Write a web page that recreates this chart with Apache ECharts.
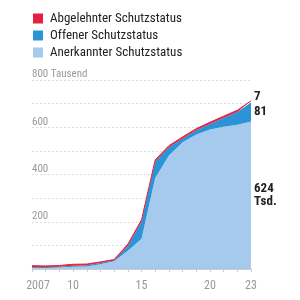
<!DOCTYPE html>
<html>
<head>
<meta charset="utf-8">
<script src="https://cdn.jsdelivr.net/npm/echarts@6/dist/echarts.min.js"></script>
<style>
  html, body { margin: 0; padding: 0; background: #fff; }
  #chart { width: 300px; height: 300px; }
</style>
</head>
<body>
<div id="chart"></div>
<script>
// Jahre 2007 bis 2023, Werte in Tausend
const years = ['2007', '2008', '2009', '2010', '2011', '2012', '2013', '2014', '2015',
  '2016', '2017', '2018', '2019', '2020', '2021', '2022', '2023']
const anerkannt = [4, 4, 6, 9, 11, 20, 33, 77, 128, 385, 480, 536, 569, 590, 602, 611, 624]
const offen = [3, 4, 4, 5, 5, 5, 3, 20, 72, 70, 35, 16, 18, 24, 38, 54, 81]
const abgelehnt = [7, 5, 5, 6, 5, 5, 4, 8, 8, 7, 7, 7, 7, 7, 7, 7, 7]
const endTexts = ['624\nTsd.', '81', '7']
const xLabels = { '2007': '2007', '2010': '10', '2015': '15', '2020': '20', '2023': '23' }
const yTicks = [200, 400, 600, 800]

const font = "'Roboto Condensed', 'Liberation Sans Narrow', 'DejaVu Sans Condensed', Roboto, sans-serif"
const colors = { abgelehnt: '#e2213f', offen: '#2a94d6', anerkannt: '#a5caee' }

let chart = echarts.init(document.getElementById('chart'))

let option = {
    animation: false,
    textStyle: { fontFamily: font },
    legend: {
        orient: 'vertical',
        left: 33,
        top: 12,
        padding: 0,
        itemWidth: 10,
        itemHeight: 10,
        itemGap: 4,
        icon: 'rect',
        textStyle: { fontSize: 13, lineHeight: 13, color: '#222', fontFamily: font, padding: [0, 0, 0, 2] },
        data: ['Abgelehnter Schutzstatus', 'Offener Schutzstatus', 'Anerkannter Schutzstatus']
    },
    grid: { left: 32, right: 49, top: 80, bottom: 31, containLabel: false },
    xAxis: {
        type: 'category',
        data: years,
        boundaryGap: false,
        axisLine: { lineStyle: { color: '#ccc' } },
        axisTick: { show: true, length: 3, lineStyle: { color: '#ccc' } },
        axisLabel: {
            interval: 0,
            margin: 11,
            color: '#999',
            fontSize: 12,
            fontFamily: font,
            formatter: v => v === '2007' ? '{first|2007}' : (xLabels[v] || ''),
            rich: { first: { padding: [0, 0, 0, 12], color: '#999', fontSize: 12, fontFamily: font } }
        }
    },
    yAxis: {
        type: 'value',
        min: 0,
        max: 800,
        interval: 100,
        axisLine: { show: false },
        axisTick: { show: false },
        splitLine: { lineStyle: { color: '#ddd', type: [2, 2] } },
        axisLabel: {
            inside: true,
            margin: 0,
            color: '#999',
            fontSize: 11,
            fontFamily: font,
            verticalAlign: 'bottom',
            padding: [0, 0, 0, 0],
            formatter: v => v === 800 ? '800 Tausend' : (yTicks.indexOf(v) >= 0 && v > 0 ? String(v) : '')
        }
    },
    series: [
        {
            name: 'Anerkannter Schutzstatus',
            type: 'line',
            stack: 'gesamt',
            symbol: 'none',
            lineStyle: { width: 0 },
            areaStyle: { color: colors.anerkannt, opacity: 1 },
            itemStyle: { color: colors.anerkannt },
            data: anerkannt,
            z: 2
        },
        {
            name: 'Offener Schutzstatus',
            type: 'line',
            stack: 'gesamt',
            symbol: 'none',
            lineStyle: { width: 0 },
            areaStyle: { color: colors.offen, opacity: 1 },
            itemStyle: { color: colors.offen },
            data: offen,
            z: 3
        },
        {
            name: 'Abgelehnter Schutzstatus',
            type: 'line',
            stack: 'gesamt',
            symbol: 'none',
            lineStyle: { width: 1, color: colors.abgelehnt },
            areaStyle: { color: colors.abgelehnt, opacity: 1 },
            itemStyle: { color: colors.abgelehnt },
            data: abgelehnt,
            z: 4
        }
    ]
}
chart.setOption(option)

// Endbeschriftungen mittig am jeweiligen Band
const last = years.length - 1
const stacks = [anerkannt, offen, abgelehnt]
const extra = [0, 0, -5]
let base = 0
let labels = []
stacks.forEach((vals, s) => {
    const top = base + vals[last]
    const p1 = chart.convertToPixel({ gridIndex: 0 }, [last, top])
    const p0 = chart.convertToPixel({ gridIndex: 0 }, [last, base])
    labels.push({
        type: 'text',
        x: p1[0] + 3,
        y: (p0[1] + p1[1]) / 2 + extra[s],
        style: {
            text: endTexts[s],
            fill: '#222',
            font: 'bold 13px ' + font,
            lineHeight: 13,
            verticalAlign: 'middle',
            align: 'left'
        }
    })
    base = top
})
chart.setOption({ graphic: labels })
</script>
</body>
</html>
